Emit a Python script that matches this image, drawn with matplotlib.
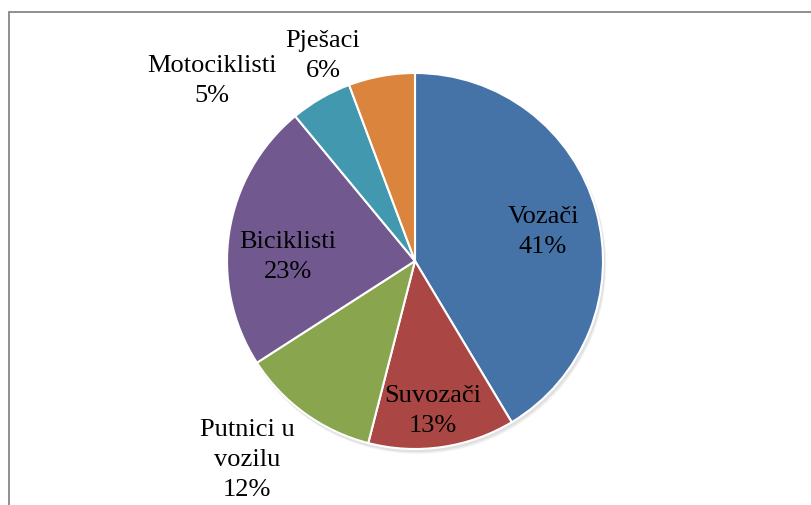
import matplotlib.pyplot as plt
from matplotlib.patches import Rectangle, Circle

# shares (clockwise from 12 o'clock)
categories = ['Vozači', 'Suvozači', 'Putnici u\nvozilu', 'Biciklisti', 'Motociklisti', 'Pješaci']
shares = [41.4, 12.6, 11.9, 23.1, 5.3, 5.7]
colors = ['#4572A7', '#AA4643', '#89A54E', '#71588F', '#4198AF', '#DB843D']

# label placement (pixel positions of label centres, y measured from the top)
label_xy = [(543, 232), (433, 411), (247, 460), (288, 257), (212, 81), (323, 56)]

W, H = 812, 506
cx, cy, r = 415, H - 262, 188

fig = plt.figure(figsize=(W / 100, H / 100), dpi=100)
ax = fig.add_axes([0, 0, 1, 1])

# chart area frame (right/bottom edges run off the image)
fig.patches.append(Rectangle((9 / W, -0.1), 1.2, (H - 13) / H + 0.1,
                             transform=fig.transFigure, fill=False,
                             edgecolor='#868686', linewidth=1.3))

# faint drop shadow
for d, c in [(4, '#f0f0f0'), (2.5, '#e0e0e0')]:
    ax.add_patch(Circle((cx + d * 0.6, cy - d), r, color=c, zorder=0))

ax.pie(shares, colors=colors, startangle=90, counterclock=False,
       center=(cx, cy), radius=r, frame=True,
       wedgeprops=dict(edgecolor='white', linewidth=1.5))
ax.set_xlim(0, W)
ax.set_ylim(0, H)
ax.set_aspect('equal')
ax.axis('off')

for name, v, (x, y) in zip(categories, shares, label_xy):
    ax.text(x, H - y, f'{name}\n{round(v)}%', ha='center', va='center',
            family='Liberation Serif', fontsize=19, linespacing=1.45, color='black')

fig.savefig('out.png', dpi=100)
